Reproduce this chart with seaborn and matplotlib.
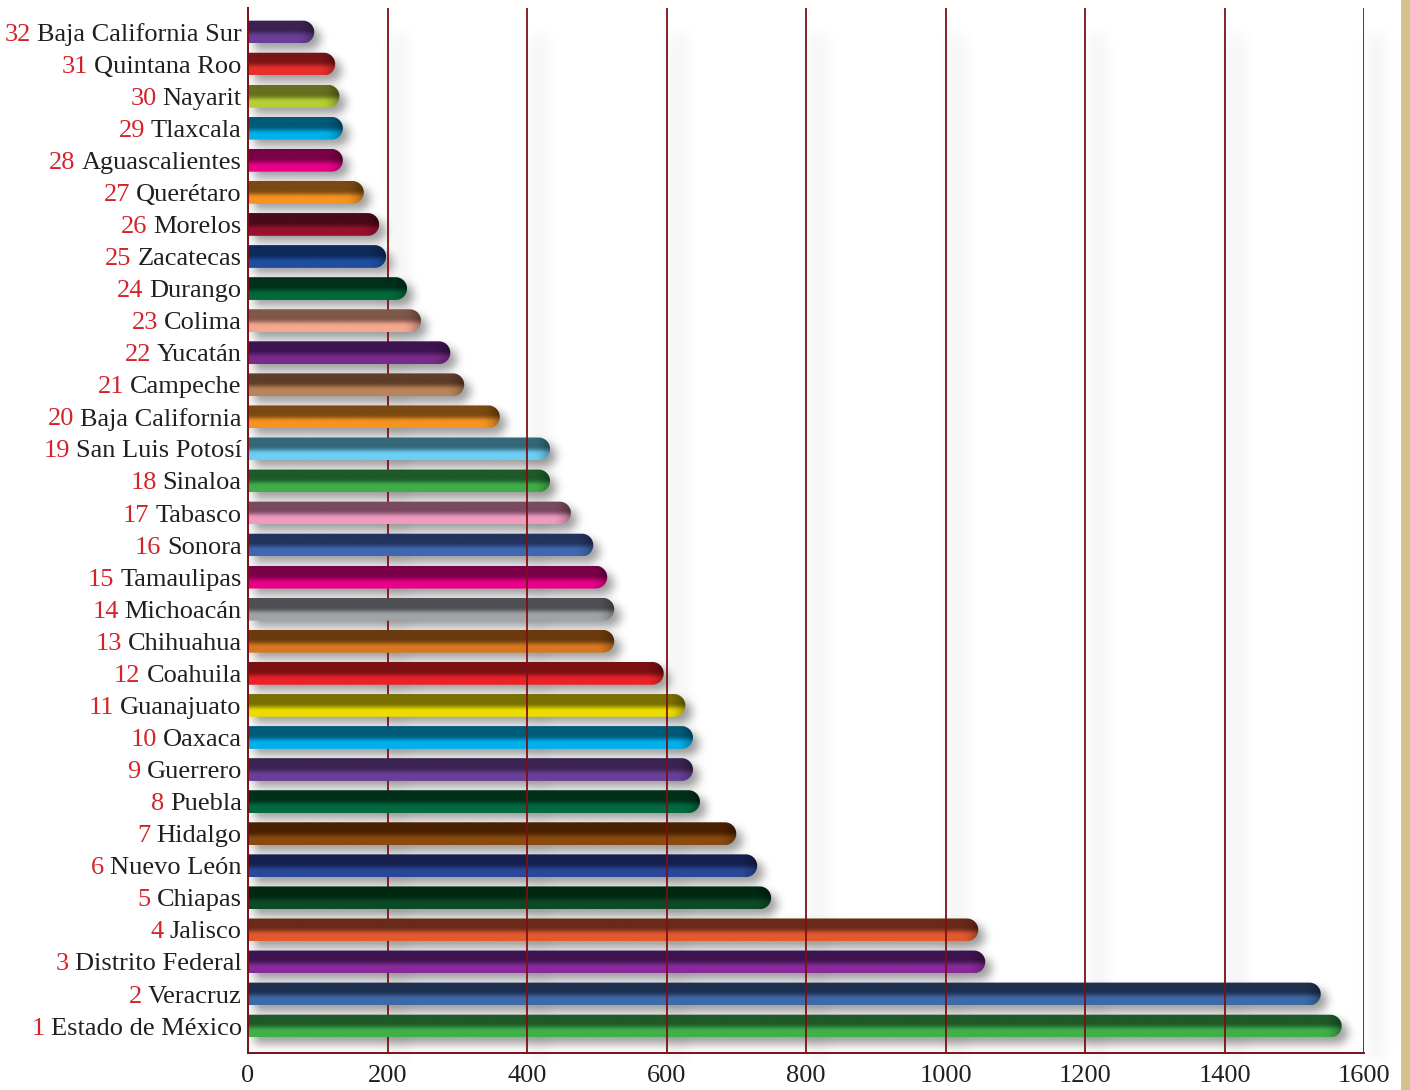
import numpy as np
import pandas as pd
import matplotlib
matplotlib.use("Agg")
import matplotlib.pyplot as plt
import seaborn as sns
from matplotlib.patches import Polygon, Rectangle
from matplotlib.colors import to_rgb

# ---------------- data ----------------
ranks = [32, 31, 30, 29, 28, 27, 26, 25, 24, 23, 22, 21, 20, 19, 18, 17,
         16, 15, 14, 13, 12, 11, 10, 9, 8, 7, 6, 5, 4, 3, 2, 1]
states = ["Baja California Sur", "Quintana Roo", "Nayarit", "Tlaxcala",
          "Aguascalientes", "Querétaro", "Morelos", "Zacatecas", "Durango",
          "Colima", "Yucatán", "Campeche", "Baja California",
          "San Luis Potosí", "Sinaloa", "Tabasco", "Sonora", "Tamaulipas",
          "Michoacán", "Chihuahua", "Coahuila", "Guanajuato", "Oaxaca",
          "Guerrero", "Puebla", "Hidalgo", "Nuevo León", "Chiapas", "Jalisco",
          "Distrito Federal", "Veracruz", "Estado de México"]
values = [95, 125, 131, 136, 136, 166, 188, 198, 228, 248, 290, 310, 361,
          433, 433, 463, 495, 515, 525, 525, 596, 627, 638, 638, 648, 700,
          730, 750, 1047, 1057, 1538, 1568]
dark_colors = ["#3a2352", "#7c1416", "#667020", "#005a7a", "#7a0048",
               "#7a4a10", "#4a0a18", "#0e2a5a", "#00301a", "#80584a",
               "#3e1450", "#5e3e28", "#7a4a10", "#346878", "#1e5a28",
               "#7a4a60", "#22335e", "#7a0048", "#4e5054", "#6a3a0e",
               "#7a1012", "#7a7000", "#005a7a", "#3a2352", "#00301a",
               "#4a2000", "#16204e", "#002810", "#6a2a1a", "#3e1450",
               "#1e3050", "#1e5a28"]
light_colors = ["#6a3f98", "#e8302b", "#b5cf35", "#00b0e8", "#e8008a",
                "#f59420", "#9a1030", "#1f4fa0", "#006a3a", "#f4a890",
                "#7a2a8a", "#b8845a", "#f59420", "#6ccef5", "#3fae4a",
                "#f09ac0", "#3f68b0", "#e8008a", "#a0a4a8", "#d8781e",
                "#ec2228", "#ecdc00", "#00b0ec", "#6a3f98", "#006a40",
                "#8a4a10", "#2a4898", "#0c4a28", "#e25a30", "#8a2a9a",
                "#3e6aa8", "#3fb04a"]
x_ticks = [0, 200, 400, 600, 800, 1000, 1200, 1400, 1600]

# ---------------- style ----------------
sns.set_theme(style="white")
plt.rcParams['font.family'] = ['Liberation Serif', 'DejaVu Serif']
GRID_RED = "#7d1015"
NUM_RED = "#d5232a"
TEXT = "#231f20"

W, H = 1410, 1090
fig = plt.figure(figsize=(W / 100, H / 100), dpi=100)
fig.patch.set_facecolor("white")
ax = fig.add_axes([248 / W, 1 - 1053 / H, (1364 - 248) / W, (1053 - 8) / H])
ax.set_facecolor("none")

df = pd.DataFrame({"state": states, "value": values})
sns.barplot(data=df, x="value", y="state", orient="h", width=0.71,
            color="white", ax=ax, zorder=2)

ax.set_xlim(0, 1600)
ax.set_ylim(len(states) - 1 + 0.84, -0.75)
ax.set_xlabel("")
ax.set_ylabel("")
ax.set_xticks(x_ticks)
ax.set_xticklabels([str(t) for t in x_ticks])
ax.tick_params(axis="x", length=6, width=1.3, color=GRID_RED, labelsize=19,
               labelcolor=TEXT, pad=2.5)
ax.tick_params(axis="y", length=0, labelsize=19, labelcolor=TEXT, pad=4.5)
for s in ["top", "right"]:
    ax.spines[s].set_visible(False)
for s in ["left", "bottom"]:
    ax.spines[s].set_color(GRID_RED)
    ax.spines[s].set_linewidth(1.4)
    ax.spines[s].set_zorder(6)

for t in x_ticks[1:]:
    ax.axvline(t, color=GRID_RED, lw=1.3, zorder=1 if t == 200 else 5)

fig.canvas.draw()

# ---------------- gradient bars ----------------
tr = ax.transData
px_per_x = (tr.transform((1, 0))[0] - tr.transform((0, 0))[0])
shadow_mask = np.zeros((H, W))
grid_mask = np.zeros((H, W))
yy, xx = np.mgrid[0:H, 0:W]


def smooth(a, b, t):
    s = np.clip((t - a) / (b - a), 0, 1)
    return s * s * (3 - 2 * s)


patches = list(ax.patches)
for i, p in enumerate(patches):
    x0, y0 = p.get_x(), p.get_y()
    w, h = p.get_width(), p.get_height()
    p.set_visible(False)
    ytop, ybot = y0, y0 + h
    yc = y0 + h / 2
    (dx0, dy_top) = tr.transform((x0, ytop))
    (dx1, dy_bot) = tr.transform((x0 + w, ybot))
    h_px = abs(dy_top - dy_bot)
    r_px = h_px / 2
    rx = r_px / px_per_x

    # gradient image
    ny = 80
    nx = max(int(abs(dx1 - dx0)), 4)
    t = np.linspace(0, 1, ny)[:, None]
    mix = smooth(0.40, 0.74, t)
    dk = np.array(to_rgb(dark_colors[i]))
    lt = np.array(to_rgb(light_colors[i]))
    col = dk[None, None, :] * (1 - mix[..., None]) + lt[None, None, :] * mix[..., None]
    xs = np.linspace(0, nx, nx)[None, :]
    cap_start = nx - 1.7 * r_px
    sh = np.clip((xs - cap_start) / (1.7 * r_px), 0, 1)
    shade = 1 - 0.35 * sh ** 2
    img = np.clip(col * shade[..., None], 0, 1)
    im = ax.imshow(img, extent=(x0, x0 + w, ybot, ytop), origin="upper",
                   aspect="auto", interpolation="bilinear", zorder=2)
    th = np.linspace(np.pi / 2, -np.pi / 2, 40)
    pts = [(x0, ytop)]
    pts += [(x0 + w - rx + rx * np.cos(a), yc - (h / 2) * np.sin(a)) for a in th]
    pts += [(x0, ybot)]
    clip = Polygon(pts, closed=True, transform=ax.transData)
    im.set_clip_path(clip)

    # shadow mask (image rows top-down)
    off_x, off_y = 6, 6
    rt = H - dy_top + off_y
    rb = H - dy_bot + off_y
    rcy = (rt + rb) / 2
    cl = dx0 + off_x
    cr = dx1 + off_x
    body = (yy >= rt) & (yy <= rb) & (xx >= cl) & (xx <= cr - r_px)
    cap = ((xx - (cr - r_px)) ** 2 + (yy - rcy) ** 2 <= r_px ** 2) & (xx > cr - r_px)
    shadow_mask = np.maximum(shadow_mask, (body | cap).astype(float))

# shadows of grid lines
top_px = H - tr.transform((0, ax.get_ylim()[1]))[1]
bot_px = H - tr.transform((0, ax.get_ylim()[0]))[1]
for tk in x_ticks[1:]:
    gx = tr.transform((tk, 0))[0]
    grid_mask[int(top_px + 25):int(bot_px + 8), int(gx + 8):int(gx + 16)] = 1.0


def box(a, r, axis):
    a = np.moveaxis(a, axis, -1)
    pw = [(0, 0)] * (a.ndim - 1) + [(r + 1, r)]
    pp = np.pad(a, pw, mode="constant")
    c = np.cumsum(pp, axis=-1)
    out = (c[..., 2 * r + 1:] - c[..., :-2 * r - 1]) / (2 * r + 1)
    return np.moveaxis(out, -1, axis)


def blur(a, r, n=3):
    for _ in range(n):
        a = box(a, r, 0)
        a = box(a, r, 1)
    return a


sm = blur(shadow_mask, 4)
gm = blur(grid_mask, 8)
left_px = int(tr.transform((0, 0))[0])
sm[:, :left_px + 1] = 0
alpha = np.clip(sm * 0.42 + gm * 0.10, 0, 1)
rgba = np.zeros((H, W, 4))
rgba[..., :3] = 0.1
rgba[..., 3] = alpha
fig.figimage(rgba, xo=0, yo=0, origin="upper", zorder=-1)

# tan strip at right edge
fig.patches.append(Rectangle((1401 / W, 0), 9 / W, 1, transform=fig.transFigure,
                             facecolor="#d4c28c", edgecolor="none", zorder=-2))

# red rank numbers before state names
fig.canvas.draw()
renderer = fig.canvas.get_renderer()
for lab, rk, i in zip(ax.get_yticklabels(), ranks, range(len(ranks))):
    bb = lab.get_window_extent(renderer)
    yc_px = tr.transform((0, i))[1]
    ax.annotate(str(rk), xy=(bb.x0 - 6, yc_px), xycoords="figure pixels",
                ha="right", va="center_baseline", fontsize=19, color=NUM_RED,
                annotation_clip=False)

fig.savefig("out.png", dpi=100)
